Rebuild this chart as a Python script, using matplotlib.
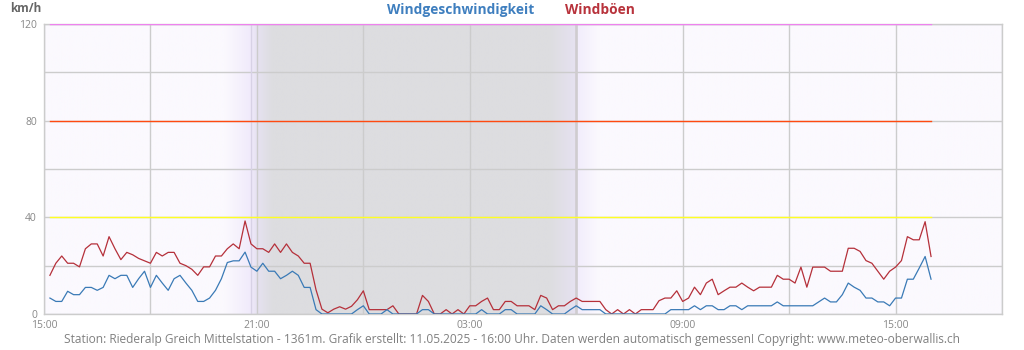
import numpy as np
import pandas as pd
import matplotlib
matplotlib.use("Agg")
import matplotlib.pyplot as plt
import matplotlib.dates as mdates
from matplotlib.colors import to_rgb

plt.rcParams['font.family'] = ['Open Sans', 'DejaVu Sans']

# 10-minute values, 10.05.2025 15:10 - 11.05.2025 16:00
times = pd.date_range("2025-05-10 15:10", "2025-05-11 16:00", freq="10min")

gusts = [16, 21, 24, 21, 21, 19.5, 27, 29, 29, 24, 32, 27, 22.5, 25.5, 24.5,
         23, 22, 21, 25.5, 24, 25.5, 25.5, 21, 20, 18.5, 16, 19.5, 19.5, 24, 24,
         27, 29, 27, 38.5, 29, 27, 27, 25.5, 29, 25.5, 29, 25.5, 24, 21, 21,
         10, 2, 0.5, 2, 3, 2,
         3.2, 5.9, 9.6, 1.8, 1.8, 1.8, 1.8, 3.4, 0, 0, 0, 0, 7.7, 5.2, 0,
         0, 1.8, 0, 1.8, 0, 3.4, 3.4, 5.2, 6.6, 1.8, 1.8, 5.2, 5.2, 3.4, 3.4,
         3.4, 1.8, 7.7, 6.6, 1.8, 3.4, 3.4, 5.2, 6.6, 5.2, 5.2, 5.2, 5.2, 1.8, 0,
         1.8, 0, 1.8, 0, 1.8, 1.8, 1.8, 5.5, 6.6, 6.6, 9.6,
         5.2, 6.6, 11.1, 8, 12.8, 14.4, 8, 9.6, 11.1, 11.1, 12.8, 11.1, 9.6, 11.1,
         11.1, 11.1, 16, 14.4, 14.4, 12.8, 19.4, 11.1, 19.4, 19.4, 19.4, 17.7,
         17.7, 17.7, 27.2, 27.2, 25.9, 22.1, 21, 17.7, 14.4, 17.7, 19.4, 22.1,
         32, 30.7, 30.7, 38.2, 23.8]

speed = [6.6, 5.2, 5.2, 9.4, 8, 8, 11, 11, 9.8, 11, 16, 14.6, 16, 16, 11,
         14.6, 17.7, 11, 16, 12.8, 9.8, 14.6, 16, 12.8, 9.8, 5.2, 5.2, 6.6, 9.8,
         14.6, 21.3, 22, 22, 25.6, 19.4, 17.7, 21, 17.7, 17.7, 14.6, 16, 17.7,
         16, 11, 11, 1.8, 0, 0, 0, 0, 0,
         0, 1.8, 3.4, 0, 0, 0, 1.8, 0, 0, 0, 0, 0, 1.8, 1.8, 0,
         0, 0, 0, 0, 0, 0, 0, 1.8, 0, 0, 0, 1.8, 1.8, 0, 0,
         0, 0, 3.4, 1.8, 0, 0, 0, 1.8, 3.4, 1.8, 1.8, 1.8, 1.8, 0, 0,
         0, 0, 0, 0, 0, 0, 0, 0, 0, 1.8, 1.8,
         1.8, 1.8, 3.4, 1.8, 3.4, 3.4, 1.8, 1.8, 3.4, 3.4, 1.8, 3.4, 3.4, 3.4,
         3.4, 3.4, 5, 3.4, 3.4, 3.4, 3.4, 3.4, 3.4, 5, 6.6, 5, 5, 8, 12.8, 11.1,
         9.8, 6.6, 6.6, 5, 5, 3.4, 6.6, 6.6, 14.4, 14.4, 19, 23.8, 14.4]

thresholds = [40, 80, 120]
threshold_colors = ['#ffff22', '#ff4a10', '#ee82ee']

t0 = pd.Timestamp("2025-05-10 15:00")
t1 = pd.Timestamp("2025-05-11 18:00")
sunset = pd.Timestamp("2025-05-10 20:50")
sunrise = pd.Timestamp("2025-05-11 06:00")

bg = '#fbf9fe'
night = '#dddde0'
dusk = '#e6e2f1'

fig = plt.figure(figsize=(10.24, 3.5), dpi=100)
ax = fig.add_axes([44 / 1024, 36 / 350, 958 / 1024, 290 / 350])
ax.set_facecolor(bg)

# day/night background gradient
x0, x1 = mdates.date2num(t0), mdates.date2num(t1)
xs = np.linspace(x0, x1, 1400)
h = (xs - x0) * 24
ss = (mdates.date2num(sunset) - x0) * 24
sr = (mdates.date2num(sunrise) - x0) * 24
stops_h = [ss - 0.75, ss, ss + 0.17, ss + 0.6, sr - 0.75, sr, sr + 0.05, sr + 0.65]
stops_c = [bg, '#f0eafb', dusk, night, night, dusk, '#f2edfc', bg]
rgb = np.array([to_rgb(c) for c in stops_c])
img = np.stack([np.interp(h, stops_h, rgb[:, k]) for k in range(3)], axis=-1)
ax.imshow(img[None, :, :], extent=[x0, x1, 0, 120], aspect='auto', zorder=0,
          interpolation='bilinear')

ax.axvline(sunset, color='#d8d2e6', lw=1, zorder=1)
ax.axvline(sunrise, color='#cfcccf', lw=1.8, zorder=1)

for v, c in zip(thresholds, threshold_colors):
    ax.plot([times[0], times[-1]], [v, v], color=c, lw=1, zorder=3)

ax.plot(times, gusts, color='#b5303a', lw=0.9, zorder=4)
ax.plot(times, speed, color='#3a7ab6', lw=0.9, zorder=5)

ax.set_xlim(t0, t1)
ax.set_ylim(0, 120)
ax.xaxis.set_major_locator(mdates.HourLocator(byhour=[3, 9, 15, 21]))
ax.xaxis.set_major_formatter(mdates.DateFormatter('%H:%M'))
ax.xaxis.set_minor_locator(mdates.HourLocator(byhour=[0, 6, 12, 18]))
ax.set_yticks([0, 40, 80, 120])
ax.set_yticks([20, 60, 100], minor=True)
ax.grid(True, which='both', color='#cccccc', lw=1, zorder=1)
ax.set_axisbelow(True)
ax.tick_params(which='both', length=0, labelsize=7.5, colors='#888888', pad=4)
ax.tick_params(axis='y', pad=5)
for s in ax.spines.values():
    s.set_color('#cccccc')
    s.set_linewidth(1)

fig.text(10 / 1024, 1 - 9 / 350, 'km/h', fontsize=8.5, fontweight='bold',
         color='#666666', ha='left', va='center')
fig.text(461 / 1024, 1 - 10 / 350, 'Windgeschwindigkeit', fontsize=9.9,
         fontweight='bold', color='#3f7fbf', ha='center', va='center')
fig.text(600 / 1024, 1 - 10 / 350, 'Windböen', fontsize=9.9,
         fontweight='bold', color='#b8333c', ha='center', va='center')
fig.text(512 / 1024, 1 - 340 / 350,
         'Station: Riederalp Greich Mittelstation - 1361m. Grafik erstellt: 11.05.2025 - 16:00 Uhr. '
         'Daten werden automatisch gemessen! Copyright: www.meteo-oberwallis.ch',
         fontsize=8.6, color='#808080', ha='center', va='center')

fig.savefig('out.png', dpi=100, facecolor='white')
